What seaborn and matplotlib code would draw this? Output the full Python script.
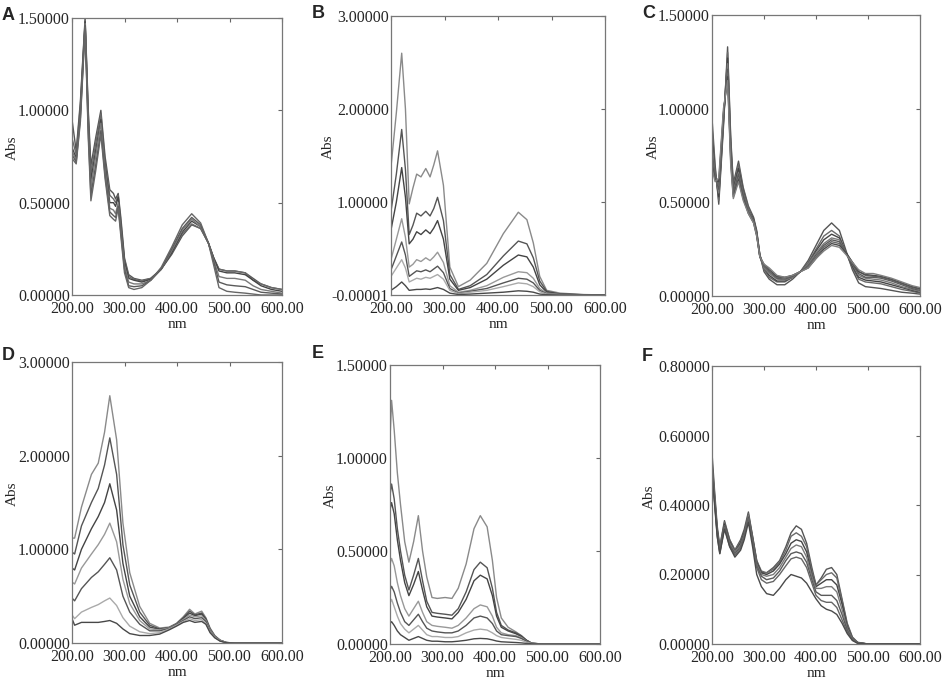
import pandas as pd
import matplotlib
matplotlib.use('Agg')
import matplotlib.pyplot as plt
import seaborn as sns

# ---- panel A ----
a_nm = [200, 208, 216, 225, 231, 236, 245, 255, 263, 272, 279, 283, 288, 293, 300, 308, 318,
        333, 350, 370, 390, 410, 428, 445, 460, 470, 480, 495, 510, 530, 545, 560, 580, 600]
a_abs = [
    [0.95, 0.78, 1.05, 1.50, 1.00, 0.70, 0.85, 1.00, 0.75, 0.57, 0.55, 0.52, 0.55, 0.42, 0.20, 0.11, 0.09,
     0.08, 0.09, 0.14, 0.22, 0.32, 0.38, 0.36, 0.28, 0.20, 0.14, 0.13, 0.13, 0.12, 0.09, 0.06, 0.04, 0.03],
    [0.85, 0.76, 1.03, 1.49, 0.98, 0.66, 0.82, 0.98, 0.72, 0.54, 0.52, 0.50, 0.54, 0.40, 0.19, 0.10, 0.085,
     0.075, 0.09, 0.14, 0.23, 0.33, 0.385, 0.36, 0.28, 0.20, 0.14, 0.13, 0.13, 0.12, 0.08, 0.06, 0.04, 0.03],
    [0.80, 0.74, 1.00, 1.48, 0.95, 0.62, 0.78, 0.95, 0.70, 0.50, 0.50, 0.48, 0.53, 0.38, 0.18, 0.09, 0.08,
     0.07, 0.085, 0.14, 0.23, 0.34, 0.40, 0.37, 0.28, 0.20, 0.13, 0.12, 0.12, 0.11, 0.08, 0.05, 0.03, 0.02],
    [0.78, 0.73, 0.98, 1.47, 0.92, 0.58, 0.75, 0.93, 0.68, 0.47, 0.46, 0.44, 0.50, 0.36, 0.16, 0.07, 0.06,
     0.06, 0.08, 0.14, 0.24, 0.35, 0.41, 0.37, 0.28, 0.19, 0.10, 0.09, 0.09, 0.08, 0.05, 0.03, 0.02, 0.01],
    [0.76, 0.72, 0.96, 1.46, 0.88, 0.54, 0.70, 0.89, 0.65, 0.45, 0.43, 0.42, 0.48, 0.34, 0.14, 0.05, 0.045,
     0.05, 0.08, 0.14, 0.25, 0.36, 0.42, 0.38, 0.28, 0.18, 0.07, 0.055, 0.05, 0.045, 0.03, 0.015, 0.01, 0.005],
    [0.74, 0.71, 0.94, 1.45, 0.85, 0.51, 0.67, 0.87, 0.63, 0.43, 0.41, 0.40, 0.47, 0.32, 0.12, 0.04, 0.03,
     0.04, 0.08, 0.15, 0.26, 0.38, 0.44, 0.39, 0.28, 0.16, 0.04, 0.02, 0.015, 0.01, 0.005, 0.0, 0.0, 0.0],
]

# ---- panel B ----
b_nm = [200, 210, 220, 227, 234, 241, 248, 256, 265, 273, 280, 287, 298, 310, 326, 348, 379,
        410, 438, 454, 466, 478, 491, 516, 560, 600]
b_abs = [
    [1.38, 1.96, 2.60, 2.00, 0.98, 1.15, 1.30, 1.27, 1.36, 1.27, 1.40, 1.55, 1.18, 0.30, 0.09, 0.16, 0.34,
     0.66, 0.89, 0.81, 0.56, 0.20, 0.05, 0.02, 0.005, 0.0],
    [0.90, 1.30, 1.78, 1.35, 0.65, 0.75, 0.88, 0.85, 0.90, 0.85, 0.93, 1.05, 0.80, 0.22, 0.06, 0.10, 0.22,
     0.42, 0.58, 0.55, 0.40, 0.15, 0.04, 0.01, 0.003, 0.0],
    [0.70, 1.00, 1.37, 1.05, 0.55, 0.60, 0.68, 0.65, 0.70, 0.66, 0.72, 0.80, 0.60, 0.17, 0.05, 0.08, 0.17,
     0.32, 0.43, 0.41, 0.30, 0.11, 0.03, 0.01, 0.002, 0.0],
    [0.38, 0.60, 0.82, 0.62, 0.30, 0.33, 0.38, 0.36, 0.40, 0.37, 0.41, 0.46, 0.35, 0.10, 0.03, 0.05, 0.10,
     0.19, 0.25, 0.24, 0.18, 0.07, 0.02, 0.005, 0.001, 0.0],
    [0.27, 0.42, 0.57, 0.43, 0.20, 0.23, 0.26, 0.25, 0.27, 0.25, 0.28, 0.31, 0.24, 0.07, 0.02, 0.04, 0.07,
     0.13, 0.18, 0.17, 0.13, 0.05, 0.015, 0.004, 0.0, 0.0],
    [0.20, 0.29, 0.38, 0.29, 0.14, 0.16, 0.18, 0.17, 0.19, 0.18, 0.20, 0.22, 0.17, 0.05, 0.015, 0.03, 0.05,
     0.09, 0.13, 0.12, 0.09, 0.035, 0.01, 0.003, 0.0, 0.0],
    [0.05, 0.09, 0.14, 0.10, 0.05, 0.055, 0.06, 0.06, 0.065, 0.06, 0.07, 0.08, 0.06, 0.02, 0.005, 0.01, 0.02,
     0.03, 0.045, 0.04, 0.03, 0.01, 0.003, 0.0, 0.0, 0.0],
]

# ---- panel C ----
c_nm = [200, 206, 213, 222, 230, 236, 241, 251, 260, 270, 280, 286, 292, 300, 310, 325, 340,
        355, 370, 385, 400, 415, 430, 445, 458, 470, 482, 495, 510, 525, 545, 565, 585, 600]
c_abs = [
    [0.95, 0.70, 0.49, 0.90, 1.33, 0.85, 0.60, 0.72, 0.58, 0.48, 0.42, 0.35, 0.22, 0.13, 0.09, 0.06, 0.06,
     0.09, 0.13, 0.19, 0.27, 0.35, 0.39, 0.35, 0.24, 0.14, 0.07, 0.05, 0.045, 0.04, 0.03, 0.02, 0.015, 0.01],
    [0.90, 0.68, 0.51, 0.92, 1.30, 0.83, 0.58, 0.70, 0.57, 0.47, 0.41, 0.34, 0.22, 0.14, 0.10, 0.075, 0.075,
     0.10, 0.13, 0.18, 0.25, 0.32, 0.35, 0.32, 0.23, 0.15, 0.09, 0.075, 0.07, 0.065, 0.05, 0.035, 0.025, 0.015],
    [0.85, 0.66, 0.53, 0.93, 1.27, 0.80, 0.57, 0.68, 0.56, 0.46, 0.41, 0.34, 0.22, 0.15, 0.11, 0.08, 0.08,
     0.10, 0.13, 0.17, 0.24, 0.30, 0.33, 0.31, 0.23, 0.16, 0.10, 0.085, 0.08, 0.075, 0.06, 0.045, 0.03, 0.02],
    [0.80, 0.65, 0.55, 0.95, 1.24, 0.78, 0.56, 0.66, 0.55, 0.46, 0.40, 0.33, 0.21, 0.15, 0.12, 0.09, 0.085,
     0.10, 0.13, 0.17, 0.23, 0.28, 0.31, 0.30, 0.23, 0.17, 0.11, 0.095, 0.09, 0.085, 0.07, 0.05, 0.035, 0.025],
    [0.76, 0.64, 0.57, 0.96, 1.21, 0.76, 0.55, 0.65, 0.54, 0.45, 0.40, 0.33, 0.21, 0.16, 0.13, 0.095, 0.09,
     0.105, 0.13, 0.16, 0.22, 0.27, 0.30, 0.29, 0.23, 0.17, 0.12, 0.10, 0.10, 0.095, 0.08, 0.06, 0.04, 0.03],
    [0.73, 0.63, 0.59, 0.97, 1.19, 0.74, 0.54, 0.63, 0.53, 0.45, 0.40, 0.33, 0.21, 0.16, 0.13, 0.10, 0.095,
     0.11, 0.13, 0.16, 0.21, 0.26, 0.29, 0.28, 0.23, 0.18, 0.13, 0.11, 0.105, 0.10, 0.085, 0.065, 0.045, 0.035],
    [0.70, 0.62, 0.61, 0.98, 1.17, 0.72, 0.53, 0.62, 0.52, 0.44, 0.39, 0.32, 0.21, 0.17, 0.14, 0.105, 0.10,
     0.11, 0.13, 0.15, 0.20, 0.25, 0.28, 0.27, 0.23, 0.18, 0.13, 0.115, 0.11, 0.105, 0.09, 0.07, 0.05, 0.04],
    [0.68, 0.61, 0.63, 1.00, 1.15, 0.70, 0.52, 0.61, 0.51, 0.44, 0.39, 0.32, 0.21, 0.17, 0.15, 0.11, 0.10,
     0.11, 0.13, 0.15, 0.20, 0.24, 0.27, 0.26, 0.22, 0.18, 0.14, 0.12, 0.12, 0.11, 0.095, 0.075, 0.055, 0.045],
]

# ---- panel D ----
d_nm = [200, 205, 218, 237, 250, 262, 272, 285, 297, 310, 329, 348, 367, 385,
        399, 412, 424, 434, 447, 455, 463, 472, 482, 494, 510, 550, 600]
d_abs = [
    [1.12, 1.12, 1.45, 1.80, 1.92, 2.25, 2.64, 2.17, 1.28, 0.75, 0.39, 0.21, 0.16, 0.17,
     0.21, 0.28, 0.36, 0.31, 0.34, 0.27, 0.16, 0.08, 0.03, 0.005, 0.0, 0.0, 0.0],
    [0.97, 0.95, 1.25, 1.50, 1.65, 1.90, 2.19, 1.80, 1.05, 0.62, 0.33, 0.19, 0.15, 0.165,
     0.205, 0.27, 0.34, 0.30, 0.32, 0.26, 0.15, 0.075, 0.03, 0.005, 0.0, 0.0, 0.0],
    [0.80, 0.78, 1.00, 1.22, 1.35, 1.50, 1.70, 1.42, 0.85, 0.50, 0.28, 0.17, 0.145, 0.16,
     0.20, 0.26, 0.32, 0.29, 0.31, 0.25, 0.145, 0.07, 0.028, 0.005, 0.0, 0.0, 0.0],
    [0.65, 0.63, 0.80, 0.95, 1.05, 1.16, 1.28, 1.08, 0.68, 0.42, 0.24, 0.15, 0.14, 0.16,
     0.20, 0.25, 0.30, 0.28, 0.29, 0.24, 0.14, 0.07, 0.027, 0.005, 0.0, 0.0, 0.0],
    [0.48, 0.45, 0.58, 0.70, 0.76, 0.84, 0.91, 0.78, 0.50, 0.33, 0.20, 0.13, 0.13, 0.155,
     0.20, 0.24, 0.28, 0.26, 0.27, 0.23, 0.13, 0.065, 0.025, 0.004, 0.0, 0.0, 0.0],
    [0.30, 0.26, 0.33, 0.38, 0.41, 0.45, 0.48, 0.40, 0.27, 0.18, 0.12, 0.10, 0.11, 0.15,
     0.19, 0.23, 0.26, 0.24, 0.25, 0.21, 0.12, 0.06, 0.023, 0.004, 0.0, 0.0, 0.0],
    [0.26, 0.19, 0.22, 0.22, 0.22, 0.23, 0.24, 0.21, 0.15, 0.10, 0.08, 0.08, 0.095, 0.14,
     0.18, 0.22, 0.24, 0.22, 0.23, 0.20, 0.11, 0.055, 0.02, 0.003, 0.0, 0.0, 0.0],
]

# ---- panel E ----
e_nm = [200, 203, 208, 214, 220, 228, 236, 245, 254, 262, 270, 280, 290, 305, 318, 330,
        345, 360, 372, 385, 395, 403, 412, 425, 440, 450, 460, 470, 490, 550, 600]
e_abs = [
    [1.10, 1.31, 1.15, 0.92, 0.75, 0.55, 0.44, 0.55, 0.69, 0.50, 0.36, 0.25, 0.245, 0.25, 0.245, 0.30,
     0.43, 0.62, 0.69, 0.63, 0.45, 0.25, 0.14, 0.09, 0.065, 0.045, 0.02, 0.004, 0.0, 0.0, 0.0],
    [0.80, 0.86, 0.78, 0.62, 0.50, 0.37, 0.29, 0.37, 0.46, 0.34, 0.23, 0.17, 0.165, 0.16, 0.155, 0.19,
     0.28, 0.40, 0.44, 0.41, 0.30, 0.17, 0.10, 0.075, 0.06, 0.045, 0.02, 0.004, 0.0, 0.0, 0.0],
    [0.72, 0.76, 0.70, 0.56, 0.45, 0.33, 0.26, 0.32, 0.39, 0.29, 0.20, 0.15, 0.145, 0.14, 0.135, 0.17,
     0.24, 0.34, 0.37, 0.35, 0.26, 0.15, 0.09, 0.07, 0.055, 0.04, 0.02, 0.004, 0.0, 0.0, 0.0],
    [0.43, 0.46, 0.42, 0.33, 0.26, 0.19, 0.15, 0.19, 0.23, 0.17, 0.12, 0.10, 0.095, 0.09, 0.085, 0.10,
     0.14, 0.19, 0.21, 0.20, 0.15, 0.09, 0.06, 0.05, 0.045, 0.035, 0.015, 0.003, 0.0, 0.0, 0.0],
    [0.29, 0.31, 0.28, 0.22, 0.17, 0.12, 0.10, 0.13, 0.16, 0.12, 0.085, 0.07, 0.065, 0.06, 0.06, 0.07,
     0.10, 0.14, 0.15, 0.14, 0.11, 0.07, 0.05, 0.045, 0.04, 0.03, 0.015, 0.003, 0.0, 0.0, 0.0],
    [0.22, 0.24, 0.20, 0.15, 0.11, 0.08, 0.06, 0.08, 0.10, 0.075, 0.05, 0.04, 0.04, 0.035, 0.035, 0.04,
     0.06, 0.075, 0.08, 0.075, 0.06, 0.045, 0.035, 0.03, 0.025, 0.02, 0.01, 0.002, 0.0, 0.0, 0.0],
    [0.11, 0.12, 0.10, 0.07, 0.05, 0.035, 0.02, 0.03, 0.04, 0.03, 0.02, 0.015, 0.015, 0.012, 0.012, 0.015,
     0.02, 0.028, 0.03, 0.028, 0.022, 0.016, 0.012, 0.01, 0.008, 0.006, 0.003, 0.001, 0.0, 0.0, 0.0],
]

# ---- panel F ----
f_nm = [200, 205, 210, 215, 224, 234, 244, 255, 262, 270, 278, 286, 295, 305, 318, 330, 342,
        352, 362, 372, 382, 392, 400, 410, 420, 430, 440, 450, 460, 470, 480, 500, 550, 600]
f_abs = [
    [0.55, 0.44, 0.34, 0.28, 0.355, 0.30, 0.27, 0.30, 0.33, 0.38, 0.31, 0.24, 0.205, 0.205, 0.22, 0.24, 0.28,
     0.32, 0.34, 0.33, 0.29, 0.22, 0.17, 0.19, 0.215, 0.22, 0.20, 0.13, 0.06, 0.02, 0.005, 0.0, 0.0, 0.0],
    [0.53, 0.43, 0.33, 0.28, 0.35, 0.30, 0.27, 0.295, 0.32, 0.375, 0.31, 0.24, 0.21, 0.205, 0.215, 0.235, 0.27,
     0.31, 0.32, 0.31, 0.28, 0.21, 0.17, 0.185, 0.20, 0.205, 0.19, 0.125, 0.055, 0.018, 0.004, 0.0, 0.0, 0.0],
    [0.52, 0.42, 0.33, 0.27, 0.345, 0.295, 0.265, 0.29, 0.32, 0.37, 0.305, 0.235, 0.205, 0.20, 0.21, 0.23, 0.26,
     0.29, 0.30, 0.295, 0.265, 0.20, 0.165, 0.175, 0.185, 0.185, 0.17, 0.115, 0.05, 0.016, 0.004, 0.0, 0.0, 0.0],
    [0.51, 0.42, 0.32, 0.27, 0.34, 0.29, 0.265, 0.285, 0.315, 0.37, 0.30, 0.23, 0.20, 0.195, 0.20, 0.22, 0.25,
     0.275, 0.285, 0.28, 0.25, 0.195, 0.16, 0.16, 0.165, 0.165, 0.15, 0.10, 0.045, 0.015, 0.003, 0.0, 0.0, 0.0],
    [0.50, 0.41, 0.32, 0.265, 0.34, 0.285, 0.26, 0.28, 0.31, 0.365, 0.30, 0.225, 0.195, 0.185, 0.19, 0.21, 0.24,
     0.26, 0.265, 0.26, 0.235, 0.185, 0.15, 0.14, 0.14, 0.14, 0.125, 0.085, 0.04, 0.013, 0.003, 0.0, 0.0, 0.0],
    [0.50, 0.41, 0.31, 0.26, 0.335, 0.28, 0.255, 0.275, 0.31, 0.36, 0.295, 0.22, 0.185, 0.175, 0.18, 0.20, 0.225,
     0.245, 0.25, 0.245, 0.22, 0.175, 0.14, 0.125, 0.12, 0.12, 0.105, 0.07, 0.035, 0.012, 0.003, 0.0, 0.0, 0.0],
    [0.49, 0.40, 0.31, 0.26, 0.33, 0.28, 0.25, 0.27, 0.30, 0.35, 0.28, 0.20, 0.165, 0.145, 0.14, 0.16, 0.185,
     0.20, 0.195, 0.19, 0.175, 0.15, 0.13, 0.11, 0.10, 0.095, 0.085, 0.06, 0.03, 0.01, 0.002, 0.0, 0.0, 0.0],
]

x_ticks = [200, 300, 400, 500, 600]
x_labels = ['200.00', '300.00', '400.00', '500.00', '600.00']
y_ticks_15 = [0.0, 0.5, 1.0, 1.5]
y_labels_15 = ['0.00000', '0.50000', '1.00000', '1.50000']
y_ticks_b = [-0.00001, 1.0, 2.0, 3.0]
y_labels_b = ['-0.00001', '1.00000', '2.00000', '3.00000']
y_ticks_d = [0.0, 1.0, 2.0, 3.0]
y_labels_d = ['0.00000', '1.00000', '2.00000', '3.00000']
y_ticks_f = [0.0, 0.2, 0.4, 0.6, 0.8]
y_labels_f = ['0.00000', '0.20000', '0.40000', '0.60000', '0.80000']

greys_dark = ['#555555', '#6a6a6a', '#444444', '#7a7a7a', '#5a5a5a', '#666666', '#4a4a4a', '#808080']
greys_mixed = ['#8a8a8a', '#555555', '#444444', '#999999', '#555555', '#aaaaaa', '#484848', '#777777']

sns.set_style('white')
plt.rcParams['font.family'] = ['Liberation Serif', 'DejaVu Serif']

W, H = 943, 679
fig = plt.figure(figsize=(W / 100, H / 100), dpi=100)


def box(l, t, r, b):
    return [l / W, 1 - b / H, (r - l) / W, (b - t) / H]


# letter, data, axes box (px), ylim, ticks, letter position (px), ylabel x (axes frac), palette
panels = [
    ('A', a_nm, a_abs, box(72, 18, 282, 295), (0, 1.5), y_ticks_15, y_labels_15, (2, 7), -0.252, greys_dark),
    ('B', b_nm, b_abs, box(391, 16, 605, 295), (-0.00001, 3.0), y_ticks_b, y_labels_b, (312, 5), -0.262, greys_mixed),
    ('C', c_nm, c_abs, box(712, 15, 920, 296), (0, 1.5), y_ticks_15, y_labels_15, (642, 5), -0.25, greys_dark),
    ('D', d_nm, d_abs, box(72, 362, 282, 643), (0, 3.0), y_ticks_d, y_labels_d, (2, 347), -0.252, greys_mixed),
    ('E', e_nm, e_abs, box(390, 365, 600, 644), (0, 1.5), y_ticks_15, y_labels_15, (312, 345), -0.252, greys_mixed),
    ('F', f_nm, f_abs, box(712, 366, 920, 644), (0, 0.8), y_ticks_f, y_labels_f, (642, 348), -0.27, greys_dark),
]

for letter, nm, curves, pos, ylim, yt, ylab, lpos, ylx, pal in panels:
    ax = fig.add_axes(pos)
    rows = []
    for i, curve in enumerate(curves):
        for x, y in zip(nm, curve):
            rows.append((i, x, y))
    df = pd.DataFrame(rows, columns=['curve', 'nm', 'abs'])
    sns.lineplot(data=df, x='nm', y='abs', hue='curve', palette=pal[:len(curves)],
                 legend=False, linewidth=1.0, errorbar=None, ax=ax)
    ax.set_xlim(200, 600)
    ax.set_ylim(*ylim)
    ax.set_xticks(x_ticks)
    ax.set_xticklabels(x_labels)
    ax.set_yticks(yt)
    ax.set_yticklabels(ylab, va='center_baseline')
    ax.tick_params(direction='in', length=3, width=0.8, color='#666666',
                   top=True, right=True, labelsize=11.5, pad=1.5)
    ax.tick_params(axis='x', pad=4)
    for s in ax.spines.values():
        s.set_color('#777777')
        s.set_linewidth(0.9)
    ax_h = pos[3] * H
    ax.set_xlabel('nm', fontsize=11, va='baseline')
    ax.set_ylabel('Abs', fontsize=11)
    ax.xaxis.set_label_coords(0.5, -33 / ax_h)
    ax.yaxis.set_label_coords(ylx, 0.53)
    fig.text(lpos[0] / W, 1 - lpos[1] / H, letter, fontfamily='Liberation Sans',
             fontweight='bold', fontsize=13, va='top', ha='left')

fig.savefig('out.png', dpi=100)
